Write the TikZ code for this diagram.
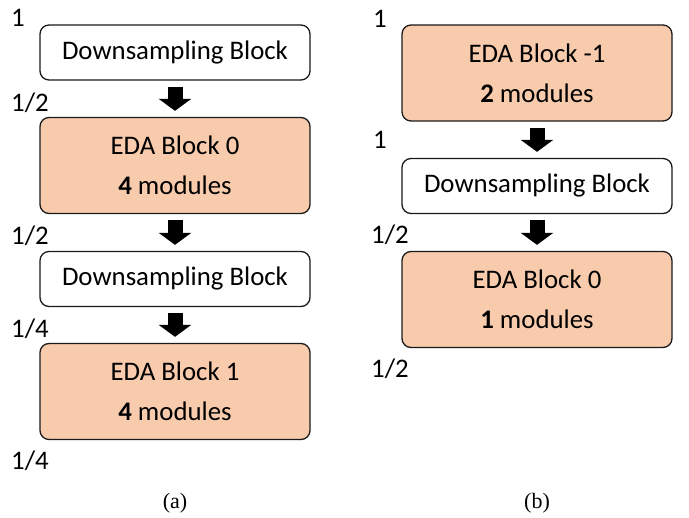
\documentclass[tikz,border=0pt]{standalone}
\usepackage{fontspec}
\setmainfont{Carlito}
\newfontfamily\capfont{Liberation Serif}
\usetikzlibrary{arrows.meta}
\definecolor{peach}{HTML}{F8CBAD}
\definecolor{edgec}{HTML}{1A1A1A}
\begin{document}
\begin{tikzpicture}[x=1pt,y=-1pt,
  box/.style={draw=edgec, line width=1.3pt, rounded corners=9pt, minimum width=270pt,
              align=center, inner sep=0pt, font=\fontsize{26.8}{40}\selectfont},
  dsbox/.style={box, fill=white, minimum height=55pt},
  edabox/.style={box, fill=peach, minimum height=96pt},
  lab/.style={anchor=west, inner sep=0pt, font=\fontsize{26.8}{32}\selectfont},
  captext/.style={inner sep=0pt, font=\capfont\fontsize{22}{26}\selectfont},
  flow/.style={draw=black, line width=15pt, -{Triangle[width=32pt,length=12pt]},
               shorten <=6pt, shorten >=6pt}]
\useasboundingbox (0,0) rectangle (689,518);

% (a)
\node[dsbox]  (ds1)  at (175,52.5)  {Downsampling Block};
\node[edabox] (eda0) at (175,165.5) {EDA Block 0\\\textbf{4} modules};
\node[dsbox]  (ds2)  at (175,279)   {Downsampling Block};
\node[edabox] (eda1) at (175,391.5) {EDA Block 1\\\textbf{4} modules};

\draw[flow] (ds1.south) -- (eda0.north);
\draw[flow] (eda0.south) -- (ds2.north);
\draw[flow] (ds2.south) -- (eda1.north);

\node[lab] (la1) at (11,18)  {1};
\node[lab] (la2) at (11,103) {1/2};
\node[lab] (la3) at (11,236) {1/2};
\node[lab] (la4) at (11,329) {1/4};
\node[lab] (la5) at (11,461) {1/4};

% (b)
\node[edabox] (edam1) at (537,73)    {EDA Block -1\\\textbf{2} modules};
\node[dsbox]  (ds3)   at (537,186)   {Downsampling Block};
\node[edabox] (eda0b) at (537,299.5) {EDA Block 0\\\textbf{1} modules};

\draw[flow] (edam1.south) -- (ds3.north);
\draw[flow] (ds3.south) -- (eda0b.north);

\node[lab] (lb1) at (373,18.5) {1};
\node[lab] (lb2) at (373,140)  {1};
\node[lab] (lb3) at (371,235)  {1/2};
\node[lab] (lb4) at (371,369)  {1/2};

\node[captext] (capa) at (175,503) {(a)};
\node[captext] (capb) at (537,503) {(b)};
\end{tikzpicture}
\end{document}
